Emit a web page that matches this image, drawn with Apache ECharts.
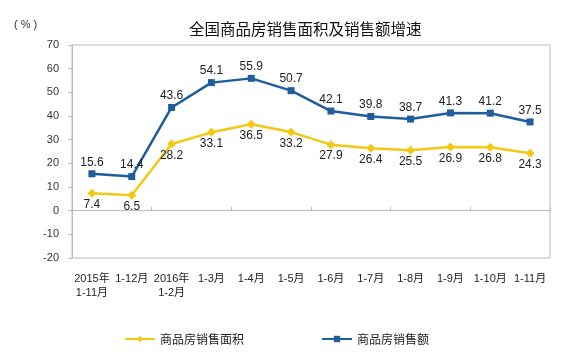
<!DOCTYPE html>
<html lang="zh">
<head>
    <meta charset="UTF-8">
    <title>全国商品房销售面积及销售额增速</title>
    <script src="https://cdn.jsdelivr.net/npm/echarts@6/dist/echarts.min.js"></script>
    <style>
        html, body { margin: 0; padding: 0; background: #fff; }
        #chart { width: 573px; height: 352px; }
    </style>
</head>
<body>
<div id="chart"></div>
<script>
    // 月份
    var months = ['2015年\n1-11月', '1-12月', '2016年\n1-2月', '1-3月', '1-4月', '1-5月',
        '1-6月', '1-7月', '1-8月', '1-9月', '1-10月', '1-11月'];
    // 商品房销售面积增速 (%)
    var areaGrowth = [7.4, 6.5, 28.2, 33.1, 36.5, 33.2, 27.9, 26.4, 25.5, 26.9, 26.8, 24.3];
    // 商品房销售额增速 (%)
    var salesGrowth = [15.6, 14.4, 43.6, 54.1, 55.9, 50.7, 42.1, 39.8, 38.7, 41.3, 41.2, 37.5];
    var yMin = -20, yMax = 70, yStep = 10;

    var font = 'Arial, "Liberation Sans", "Noto Sans CJK SC", sans-serif';
    var yellow = '#f3c916';
    var blue = '#1f5d9c';

    var option = {
        animation: false,
        textStyle: { fontFamily: font },
        title: {
            text: '全国商品房销售面积及销售额增速',
            left: 184,
            top: 16,
            textStyle: { fontSize: 15.5, fontWeight: 'normal', color: '#111', fontFamily: '"Noto Sans CJK SC", sans-serif' }
        },
        graphic: [{
            type: 'text',
            left: 14,
            top: 19,
            style: { text: '( % )', fontSize: 11, fill: '#333', fontFamily: font }
        }],
        grid: {
            left: 72, right: 23, top: 45, bottom: 94,
            show: true, borderColor: '#bdbdbd', borderWidth: 1
        },
        legend: {
            left: 119,
            top: 328,
            itemWidth: 30,
            itemHeight: 8,
            itemGap: 77,
            textStyle: { fontSize: 12, color: '#222', fontFamily: '"Noto Sans CJK SC", sans-serif' },
            data: ['商品房销售面积', '商品房销售额']
        },
        xAxis: [{
            type: 'category',
            data: months,
            position: 'bottom',
            axisLine: { show: false, onZero: false },
            axisTick: { show: false },
            axisLabel: { interval: 0, margin: 14, fontSize: 11, color: '#222', lineHeight: 14 }
        }, {
            type: 'category',
            data: months,
            position: 'bottom',
            axisLine: { show: true, onZero: true, lineStyle: { color: '#bdbdbd' } },
            axisTick: { show: true, inside: true, length: 4, lineStyle: { color: '#bdbdbd' } },
            axisLabel: { show: false }
        }],
        yAxis: {
            type: 'value',
            min: yMin, max: yMax, interval: yStep,
            axisLine: { show: true, lineStyle: { color: '#bdbdbd' } },
            axisTick: { show: true, length: 4, lineStyle: { color: '#bdbdbd' } },
            splitLine: { show: false },
            axisLabel: { fontSize: 11, color: '#333', margin: 13 }
        },
        series: [{
            name: '商品房销售面积',
            type: 'line',
            xAxisIndex: 0,
            data: areaGrowth,
            symbol: 'diamond',
            symbolSize: 9,
            lineStyle: { color: yellow, width: 2.5 },
            itemStyle: { color: yellow },
            label: { show: true, position: 'bottom', distance: 1, fontSize: 12, color: '#222' }
        }, {
            name: '商品房销售额',
            type: 'line',
            xAxisIndex: 0,
            data: salesGrowth,
            symbol: 'rect',
            symbolSize: 7,
            lineStyle: { color: blue, width: 2.5 },
            itemStyle: { color: blue },
            label: { show: true, position: 'top', distance: 2, fontSize: 12, color: '#222' }
        }]
    };

    var myChart = echarts.init(document.getElementById('chart'));
    myChart.setOption(option);
</script>
</body>
</html>
